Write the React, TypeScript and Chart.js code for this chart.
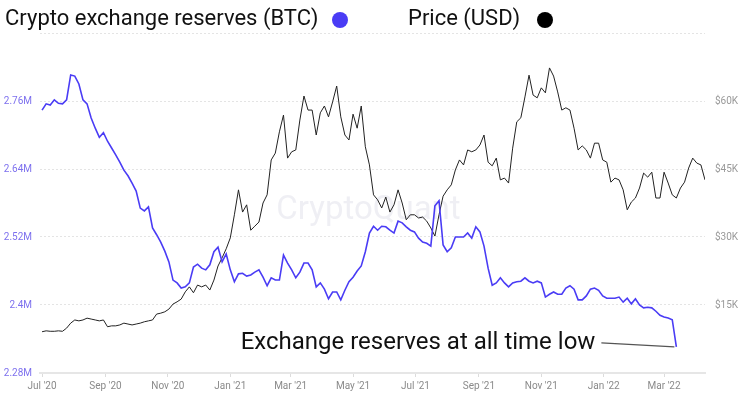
import React, { useEffect, useRef } from 'react';
import { Chart, registerables } from 'chart.js';

Chart.register(...registerables);

// ---- data ----
const STEP_DAYS = 4; // one value every 4 days, starting 1 Jul 2020 (day 0)

// Exchange reserves, millions of BTC
const reservesM = [
  2.744, 2.755, 2.753, 2.762, 2.756, 2.755, 2.762, 2.806, 2.804, 2.790,
  2.762, 2.755, 2.730, 2.712, 2.696, 2.704, 2.689, 2.677, 2.665, 2.652,
  2.638, 2.628, 2.615, 2.601, 2.571, 2.566, 2.573, 2.536, 2.524, 2.511,
  2.495, 2.476, 2.444, 2.439, 2.430, 2.432, 2.439, 2.467, 2.472, 2.465,
  2.462, 2.471, 2.494, 2.502, 2.476, 2.490, 2.462, 2.441, 2.455, 2.456,
  2.451, 2.453, 2.458, 2.462, 2.449, 2.434, 2.448, 2.444, 2.444, 2.488,
  2.474, 2.462, 2.448, 2.458, 2.474, 2.474, 2.462, 2.432, 2.439, 2.428,
  2.411, 2.423, 2.423, 2.409, 2.426, 2.441, 2.449, 2.460, 2.469, 2.494,
  2.527, 2.539, 2.532, 2.539, 2.538, 2.532, 2.527, 2.548, 2.545, 2.538,
  2.532, 2.529, 2.518, 2.511, 2.509, 2.504, 2.575, 2.584, 2.506, 2.494,
  2.501, 2.520, 2.520, 2.520, 2.527, 2.518, 2.538, 2.529, 2.504, 2.465,
  2.435, 2.439, 2.448, 2.439, 2.432, 2.439, 2.441, 2.442, 2.448, 2.442,
  2.439, 2.442, 2.439, 2.414, 2.419, 2.423, 2.419, 2.419, 2.430, 2.434,
  2.428, 2.409, 2.409, 2.416, 2.428, 2.430, 2.426, 2.416, 2.412, 2.412,
  2.412, 2.414, 2.405, 2.412, 2.402, 2.411, 2.400, 2.395, 2.396, 2.395,
  2.389, 2.382, 2.379, 2.377, 2.374, 2.326,
];

// BTC price, thousands of USD
const priceK = [
  9.1, 9.3, 9.2, 9.2, 9.3, 9.2, 9.9, 11.0, 11.7, 11.5,
  11.7, 12.1, 11.9, 11.7, 11.5, 11.7, 10.2, 10.4, 10.4, 10.6,
  11.0, 10.8, 10.6, 10.8, 11.0, 11.3, 11.5, 11.7, 13.0, 13.2,
  13.5, 14.1, 15.2, 15.7, 16.3, 17.9, 19.0, 17.7, 19.4, 19.0,
  19.4, 18.3, 20.5, 23.6, 25.4, 27.4, 29.8, 34.9, 40.4, 35.5,
  37.1, 31.5, 32.4, 33.3, 37.5, 39.3, 47.0, 48.5, 53.2, 56.9,
  47.4, 48.8, 49.2, 55.8, 61.1, 58.0, 58.0, 52.5, 57.4, 58.9,
  56.5, 59.8, 63.3, 56.5, 52.5, 51.4, 57.1, 54.0, 58.9, 49.9,
  45.9, 39.3, 38.2, 36.4, 38.8, 35.5, 37.1, 40.4, 37.5, 33.8,
  34.9, 34.9, 34.2, 34.4, 33.5, 32.0, 30.2, 34.9, 39.0, 40.4,
  41.5, 44.8, 47.0, 45.9, 49.2, 48.8, 49.2, 50.3, 52.5, 46.5,
  45.7, 47.4, 42.6, 43.0, 41.9, 49.6, 55.4, 56.3, 60.9, 65.7,
  61.3, 60.7, 62.9, 61.8, 67.3, 65.5, 62.0, 58.0, 58.5, 58.0,
  54.0, 49.2, 50.1, 49.2, 47.4, 50.7, 50.7, 47.0, 46.5, 42.1,
  43.0, 42.6, 40.4, 36.0, 37.7, 38.6, 40.8, 44.1, 43.2, 44.3,
  38.6, 38.6, 44.3, 41.9, 39.3, 38.6, 40.8, 42.1, 45.2, 47.4,
  46.3, 45.9, 42.6,
];

// x-axis ticks: day offsets from 1 Jul 2020 and their labels
const tickDays = [0, 62, 123, 184, 243, 304, 365, 427, 488, 549, 608];
const tickLabels = ["Jul '20", "Sep '20", "Nov '20", "Jan '21", "Mar '21", "May '21", "Jul '21", "Sep '21", "Nov '21", "Jan '22", "Mar '22"];

const seriesNames = ['Crypto exchange reserves (BTC)', 'Price (USD)'];
const annotationText = 'Exchange reserves at all time low';
const watermarkText = 'CryptoQuant';

const BLUE = '#4a3cf5';
const BLACK = '#222222';
const FONT = 'Roboto, "Noto Sans", sans-serif';

const overlayPlugin = {
  id: 'overlay',
  beforeDatasetsDraw(chart: any) {
    const { ctx, chartArea } = chart;
    ctx.save();
    ctx.font = `33px ${FONT}`;
    ctx.fillStyle = 'rgba(215,215,228,0.4)';
    ctx.textAlign = 'center';
    ctx.textBaseline = 'middle';
    ctx.fillText(watermarkText, (chartArea.left + chartArea.right) / 2 - 4, 211);
    ctx.restore();
  },
  afterDraw(chart: any) {
    const { ctx } = chart;
    ctx.save();
    // legend
    ctx.font = `22px ${FONT}`;
    ctx.fillStyle = '#111';
    ctx.textBaseline = 'middle';
    ctx.textAlign = 'left';
    ctx.fillText(seriesNames[0], 5, 19);
    ctx.fillText(seriesNames[1], 408, 19);
    ctx.beginPath();
    ctx.arc(340, 20, 8, 0, Math.PI * 2);
    ctx.fillStyle = BLUE;
    ctx.fill();
    ctx.beginPath();
    ctx.arc(545, 20, 8, 0, Math.PI * 2);
    ctx.fillStyle = '#000';
    ctx.fill();

    // annotation
    const meta = chart.getDatasetMeta(0);
    const last = meta.data[meta.data.length - 1];
    const px = last.x;
    const py = last.y;
    ctx.strokeStyle = '#555';
    ctx.lineWidth = 1.2;
    ctx.beginPath();
    ctx.moveTo(px - 75, py - 4);
    ctx.lineTo(px - 2, py);
    ctx.stroke();
    ctx.font = `24px ${FONT}`;
    ctx.fillStyle = '#111';
    ctx.textAlign = 'right';
    ctx.textBaseline = 'middle';
    ctx.fillText(annotationText, px - 81, py - 4);
    ctx.restore();
  },
};

export default function App() {
  const ref = useRef<HTMLCanvasElement | null>(null);

  useEffect(() => {
    if (!ref.current) return;
    const reserveData = reservesM.map((v, i) => ({ x: i * STEP_DAYS, y: v }));
    const priceData = priceK.map((v, i) => ({ x: i * STEP_DAYS, y: v }));

    const chart = new Chart(ref.current, {
      type: 'line',
      data: {
        datasets: [
          {
            label: seriesNames[0],
            data: reserveData,
            yAxisID: 'y',
            borderColor: BLUE,
            borderWidth: 1.6,
            pointRadius: 0,
            tension: 0,
            order: 1,
          },
          {
            label: seriesNames[1],
            data: priceData,
            yAxisID: 'y1',
            borderColor: BLACK,
            borderWidth: 1,
            pointRadius: 0,
            tension: 0,
            order: 2,
          },
        ],
      },
      options: {
        responsive: false,
        animation: false,
        devicePixelRatio: 1,
        layout: { padding: { top: 33, left: 0, right: 0, bottom: 0 } },
        plugins: { legend: { display: false }, tooltip: { enabled: false } },
        scales: {
          x: {
            type: 'linear',
            min: -2,
            max: 648,
            afterBuildTicks: (scale: any) => {
              scale.ticks = tickDays.map((d) => ({ value: d }));
            },
            afterFit: (scale: any) => {
              scale.height = 22;
            },
            grid: { drawOnChartArea: false, drawTicks: true, tickLength: 4, tickColor: '#dcdcdc' },
            border: { display: true, color: '#e6e6e6', width: 2 },
            ticks: {
              autoSkip: false,
              maxRotation: 0,
              padding: 3,
              color: '#8a8a8a',
              font: { family: FONT, size: 10 },
              callback: (v: any) => {
                const idx = tickDays.indexOf(Number(v));
                return idx >= 0 ? tickLabels[idx] : '';
              },
            },
          },
          y: {
            type: 'linear',
            position: 'left',
            min: 2.28,
            max: 2.88,
            afterFit: (scale: any) => {
              scale.width = 40;
            },
            grid: { color: '#e4e4e4', drawTicks: false, lineWidth: 1 },
            border: { display: false, dash: [2, 2] },
            ticks: {
              stepSize: 0.12,
              padding: 8,
              color: '#7d70ee',
              font: { family: FONT, size: 10 },
              callback: (v: any) => {
                const n = Math.round(Number(v) * 100) / 100;
                if (n > 2.87) return '';
                return `${n}M`;
              },
            },
          },
          y1: {
            type: 'linear',
            position: 'right',
            min: 0,
            max: 75,
            afterFit: (scale: any) => {
              scale.width = 47;
            },
            grid: { display: false, drawTicks: false },
            border: { display: false },
            ticks: {
              stepSize: 15,
              padding: 10,
              color: '#999',
              font: { family: FONT, size: 10 },
              callback: (v: any) => {
                const n = Math.round(Number(v));
                if (n <= 0 || n >= 75) return '';
                return `$${n}K`;
              },
            },
          },
        },
      },
      plugins: [overlayPlugin],
    } as any);

    return () => chart.destroy();
  }, []);

  return (
    <div style={{ position: 'fixed', left: 0, top: 0, width: 752, height: 395, background: '#fff' }}>
      <canvas ref={ref} width={752} height={395} style={{ display: 'block' }} />
    </div>
  );
}
